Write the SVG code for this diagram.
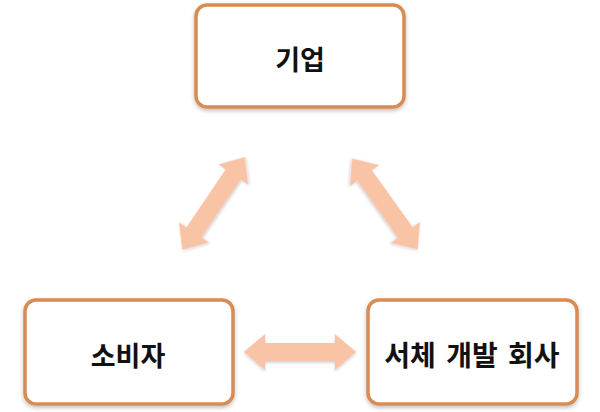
<svg xmlns="http://www.w3.org/2000/svg" width="600" height="412" viewBox="0 0 600 412">
<defs>
<style>
.box{fill:#fff;stroke:#D88C52;stroke-width:3.5;filter:url(#sh)}
.lbl{font-family:"Noto Sans CJK KR",sans-serif;font-weight:bold;font-size:27px;fill:#111;text-anchor:middle;dominant-baseline:central}
.arr{fill:#F9C3A6;filter:url(#sh2)}
</style>
<filter id="sh" x="-10%" y="-10%" width="120%" height="130%"><feDropShadow dx="0" dy="2" stdDeviation="2" flood-color="#000" flood-opacity="0.25"/></filter>
<filter id="sh2" x="-10%" y="-30%" width="120%" height="160%"><feDropShadow dx="0" dy="1.5" stdDeviation="1.5" flood-color="#000" flood-opacity="0.2"/></filter>
<path id="da" d="M-56,0 L-35,-18 L-35,-9 L35,-9 L35,-18 L56,0 L35,18 L35,9 L-35,9 L-35,18 Z"/>
</defs>
<rect width="600" height="412" fill="#fff"/>
<g id="connectors">
<use href="#da" class="arr" transform="translate(213.5,203.5) rotate(-55.9)"/>
<use href="#da" class="arr" transform="translate(385,204) rotate(54.3)"/>
<use href="#da" class="arr" transform="translate(300,352)"/>
</g>
<g id="node-company">
<rect class="box" x="196" y="5" width="208" height="102" rx="11"/>
<text class="lbl" x="300" y="58">기업</text>
</g>
<g id="node-consumer">
<rect class="box" x="25" y="300" width="208" height="104" rx="11"/>
<text class="lbl" x="128" y="354">소비자</text>
</g>
<g id="node-font">
<rect class="box" x="368" y="300" width="209" height="104" rx="11"/>
<text class="lbl" x="472" y="354" style="font-size:28px;word-spacing:4px">서체 개발 회사</text>
</g>
</svg>
